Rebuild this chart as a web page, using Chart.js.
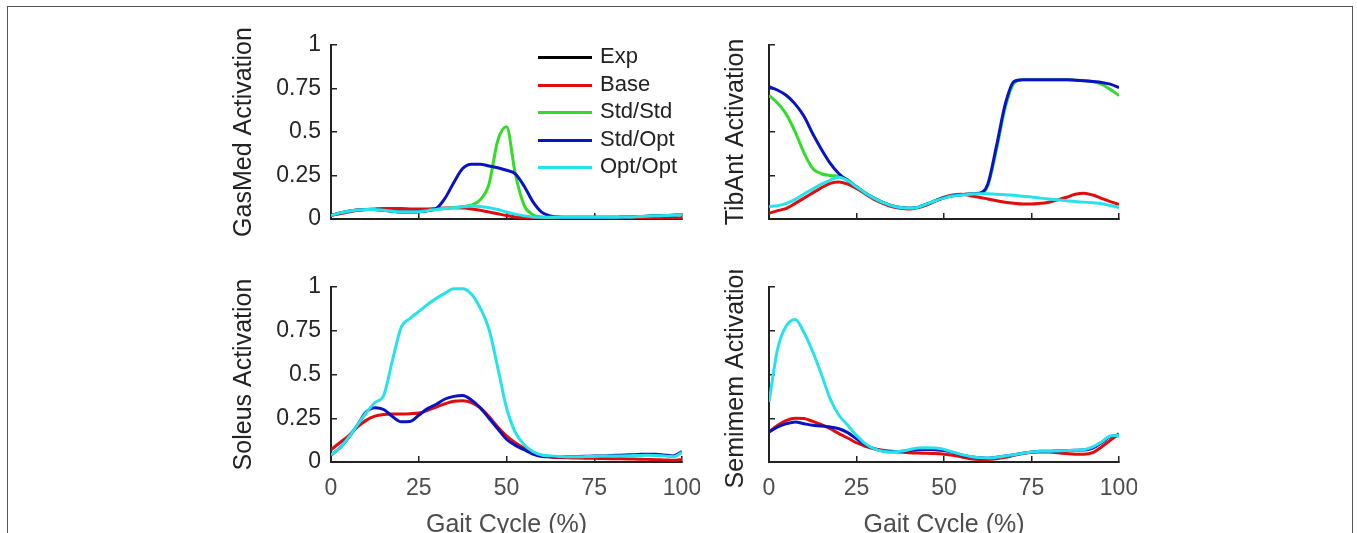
<!DOCTYPE html>
<html>
<head>
<meta charset="utf-8">
<title>Muscle activations over the gait cycle</title>
<script src="https://cdn.jsdelivr.net/npm/chart.js@4.4.0/dist/chart.umd.min.js"></script>
<style>
    body { margin: 0; background: #fff; }
    #page { position: relative; width: 1357px; height: 533px; overflow: hidden; background: #fff; }
    #frame { position: absolute; left: 7px; top: 6px; width: 1344px; height: 560px; border: 1px solid #555; border-bottom: none; }
    canvas { position: absolute; }
    #legend { position: absolute; left: 538px; top: 0; font-family: 'Liberation Sans', Arial, Helvetica, sans-serif; font-size: 22px; color: #222; }
    .legend-item { position: absolute; left: 0; height: 28px; width: 140px; }
    .legend-line { position: absolute; left: 0; top: 12px; width: 54px; height: 3px; }
    .legend-text { position: absolute; left: 62px; top: -2px; line-height: 28px; white-space: nowrap; }
</style>
</head>
<body>
<div id="page">
    <div id="frame"></div>
    <canvas id="gasmedChart" width="471" height="239" style="left:229px; top:0px;"></canvas>
    <canvas id="tibantChart" width="416" height="239" style="left:721px; top:0px;"></canvas>
    <canvas id="soleusChart" width="471" height="270" style="left:229px; top:270px;"></canvas>
    <canvas id="semimemChart" width="416" height="270" style="left:721px; top:270px;"></canvas>
    <div id="legend"></div>
</div>
<script>
// Gait cycle (%) sample points
const gaitCycle = [0, 2.5, 5, 7.5, 10, 12.5, 15, 17.5, 20, 22.5, 25, 27.5, 30, 32.5, 35, 37.5, 40, 42.5, 45, 47.5,
    50, 52.5, 55, 57.5, 60, 62.5, 65, 67.5, 70, 72.5, 75, 77.5, 80, 82.5, 85, 87.5, 90, 92.5, 95, 97.5, 100];
const gaitTicks = [0, 25, 50, 75, 100];
const activationTicks = [0, 0.25, 0.5, 0.75, 1];

const seriesNames = ['Exp', 'Base', 'Std/Std', 'Std/Opt', 'Opt/Opt'];
const seriesColors = ['#000000', '#e30c0c', '#33dc28', '#0713c4', '#26e2ea'];

// GasMed activation
const gasmedBase = [0.02, 0.03, 0.04, 0.05, 0.055, 0.058, 0.06, 0.06, 0.06, 0.058, 0.057, 0.058, 0.06, 0.063, 0.065, 0.063, 0.058, 0.05, 0.04, 0.03,
    0.02, 0.012, 0.008, 0.006, 0.006, 0.006, 0.006, 0.006, 0.006, 0.006, 0.006, 0.006, 0.006, 0.006, 0.006, 0.006, 0.006, 0.005, 0.005, 0.005, 0.005];
const gasmedStdStd = [0.02, 0.035, 0.045, 0.052, 0.055, 0.055, 0.05, 0.045, 0.04, 0.04, 0.042, 0.048, 0.055, 0.06, 0.065, 0.072, 0.08, 0.11, 0.2, 0.45,
    0.53, 0.26, 0.08, 0.025, 0.012, 0.01, 0.01, 0.01, 0.01, 0.01, 0.01, 0.01, 0.01, 0.011, 0.012, 0.014, 0.016, 0.018, 0.02, 0.022, 0.025];
const gasmedStdOpt = [0.02, 0.035, 0.045, 0.052, 0.055, 0.055, 0.05, 0.045, 0.04, 0.04, 0.042, 0.048, 0.06, 0.12, 0.21, 0.29, 0.315, 0.315, 0.305, 0.295,
    0.28, 0.26, 0.19, 0.1, 0.04, 0.018, 0.011, 0.01, 0.01, 0.01, 0.01, 0.01, 0.01, 0.011, 0.012, 0.014, 0.016, 0.018, 0.02, 0.022, 0.025];
const gasmedOptOpt = [0.02, 0.035, 0.045, 0.052, 0.055, 0.055, 0.05, 0.045, 0.04, 0.04, 0.042, 0.048, 0.055, 0.06, 0.065, 0.07, 0.075, 0.072, 0.065, 0.055,
    0.04, 0.028, 0.018, 0.012, 0.01, 0.01, 0.01, 0.01, 0.01, 0.01, 0.01, 0.01, 0.01, 0.011, 0.012, 0.014, 0.016, 0.018, 0.02, 0.022, 0.025];

// TibAnt activation
const tibantBase = [0.033, 0.048, 0.061, 0.09, 0.12, 0.15, 0.18, 0.205, 0.213, 0.2, 0.176, 0.144, 0.113, 0.09, 0.071, 0.061, 0.057, 0.065, 0.08, 0.103,
    0.125, 0.138, 0.142, 0.134, 0.125, 0.115, 0.105, 0.096, 0.09, 0.086, 0.086, 0.09, 0.096, 0.11, 0.125, 0.142, 0.148, 0.138, 0.119, 0.1, 0.084];
const tibantStdStd = [0.71, 0.665, 0.6, 0.5, 0.38, 0.29, 0.26, 0.25, 0.245, 0.225, 0.185, 0.15, 0.12, 0.095, 0.077, 0.066, 0.062, 0.067, 0.085, 0.105,
    0.122, 0.134, 0.14, 0.143, 0.146, 0.19, 0.4, 0.64, 0.78, 0.8, 0.8, 0.8, 0.8, 0.8, 0.8, 0.798, 0.795, 0.79, 0.775, 0.745, 0.71];
const tibantStdOpt = [0.76, 0.74, 0.71, 0.66, 0.59, 0.49, 0.4, 0.32, 0.26, 0.22, 0.185, 0.15, 0.12, 0.095, 0.077, 0.066, 0.062, 0.067, 0.085, 0.105,
    0.122, 0.134, 0.14, 0.143, 0.148, 0.2, 0.42, 0.66, 0.79, 0.8, 0.8, 0.8, 0.8, 0.8, 0.8, 0.798, 0.795, 0.79, 0.785, 0.775, 0.755];
const tibantOptOpt = [0.071, 0.077, 0.09, 0.113, 0.144, 0.172, 0.2, 0.224, 0.24, 0.22, 0.185, 0.15, 0.12, 0.095, 0.077, 0.066, 0.062, 0.067, 0.085, 0.105,
    0.12, 0.132, 0.138, 0.142, 0.145, 0.145, 0.142, 0.14, 0.136, 0.131, 0.126, 0.12, 0.115, 0.11, 0.105, 0.1, 0.097, 0.093, 0.088, 0.078, 0.066];

// Soleus activation
const soleusBase = [0.07, 0.11, 0.15, 0.2, 0.238, 0.262, 0.272, 0.275, 0.275, 0.276, 0.28, 0.295, 0.314, 0.333, 0.347, 0.35, 0.34, 0.31, 0.26, 0.2,
    0.15, 0.11, 0.08, 0.055, 0.038, 0.029, 0.025, 0.024, 0.023, 0.022, 0.021, 0.02, 0.019, 0.018, 0.017, 0.016, 0.015, 0.013, 0.012, 0.01, 0.015];
const soleusStdOpt = [0.04, 0.08, 0.14, 0.21, 0.285, 0.31, 0.3, 0.26, 0.23, 0.232, 0.267, 0.305, 0.33, 0.36, 0.375, 0.38, 0.355, 0.31, 0.25, 0.19,
    0.13, 0.095, 0.07, 0.045, 0.032, 0.03, 0.03, 0.031, 0.032, 0.033, 0.034, 0.035, 0.037, 0.039, 0.041, 0.043, 0.045, 0.045, 0.04, 0.035, 0.06];
const soleusOptOpt = [0.04, 0.08, 0.14, 0.21, 0.28, 0.34, 0.38, 0.58, 0.77, 0.82, 0.86, 0.9, 0.935, 0.965, 0.99, 0.99, 0.96, 0.88, 0.76, 0.54,
    0.31, 0.17, 0.1, 0.06, 0.04, 0.035, 0.032, 0.03, 0.03, 0.031, 0.032, 0.033, 0.034, 0.035, 0.036, 0.037, 0.038, 0.037, 0.035, 0.03, 0.055];

// Semimem activation
const semimemBase = [0.171, 0.21, 0.238, 0.25, 0.248, 0.232, 0.213, 0.19, 0.162, 0.137, 0.11, 0.09, 0.076, 0.067, 0.061, 0.057, 0.053, 0.051, 0.05, 0.048,
    0.044, 0.038, 0.029, 0.019, 0.015, 0.015, 0.019, 0.027, 0.038, 0.048, 0.055, 0.057, 0.057, 0.053, 0.048, 0.044, 0.044, 0.053, 0.086, 0.124, 0.162];
const semimemStdOpt = [0.171, 0.2, 0.219, 0.229, 0.219, 0.21, 0.206, 0.2, 0.19, 0.168, 0.133, 0.1, 0.076, 0.063, 0.058, 0.06, 0.065, 0.07, 0.072, 0.07,
    0.065, 0.055, 0.04, 0.03, 0.024, 0.022, 0.027, 0.034, 0.042, 0.05, 0.057, 0.061, 0.061, 0.063, 0.065, 0.067, 0.068, 0.08, 0.11, 0.145, 0.15];
const semimemOptOpt = [0.343, 0.65, 0.78, 0.815, 0.74, 0.63, 0.5, 0.36, 0.267, 0.21, 0.152, 0.105, 0.076, 0.061, 0.057, 0.061, 0.07, 0.08, 0.082, 0.08,
    0.072, 0.057, 0.042, 0.032, 0.025, 0.023, 0.027, 0.034, 0.042, 0.05, 0.057, 0.061, 0.061, 0.063, 0.065, 0.067, 0.07, 0.086, 0.114, 0.149, 0.152];

const fontFamily = "'Liberation Sans', Arial, Helvetica, sans-serif";

// One panel; the first series in the list is drawn on top
function createActivationChart(canvasId, panel) {
    return new Chart(document.getElementById(canvasId), {
        type: 'line',
        data: {
            datasets: panel.series.map(s => ({
                label: s.name,
                data: gaitCycle.map((x, i) => ({ x: x, y: s.values[i] })),
                borderColor: seriesColors[seriesNames.indexOf(s.name)],
                borderWidth: 3,
                pointRadius: 0,
                fill: false,
                cubicInterpolationMode: 'monotone'
            }))
        },
        options: {
            responsive: false,
            animation: false,
            events: [],
            layout: { padding: panel.padding, autoPadding: false },
            plugins: { legend: { display: false }, tooltip: { enabled: false } },
            scales: {
                x: {
                    type: 'linear',
                    min: 0,
                    max: 100,
                    afterBuildTicks: axis => { axis.ticks = gaitTicks.map(v => ({ value: v })); },
                    afterFit: axis => {
                        axis.height = panel.xAxisHeight;
                        axis.paddingLeft = 0;
                        axis.paddingRight = 0;
                    },
                    ticks: {
                        display: panel.showXLabels,
                        autoSkip: false,
                        maxRotation: 0,
                        padding: 19,
                        color: '#4d4d4d',
                        font: { family: fontFamily, size: 23 },
                        callback: v => String(v)
                    },
                    grid: { drawOnChartArea: false, tickLength: -6, color: '#222', lineWidth: 1.5 },
                    border: { color: '#222', width: 2 },
                    title: {
                        display: panel.showXLabels,
                        text: 'Gait Cycle (%)',
                        color: '#4d4d4d',
                        font: { family: fontFamily, size: 25 },
                        padding: 0
                    }
                },
                y: {
                    min: 0,
                    max: 1,
                    afterBuildTicks: axis => { axis.ticks = activationTicks.map(v => ({ value: v })); },
                    afterFit: axis => {
                        axis.width = panel.yAxisWidth;
                        axis.paddingTop = 0;
                        axis.paddingBottom = 0;
                    },
                    ticks: {
                        display: panel.showYLabels,
                        padding: 16,
                        color: '#262626',
                        font: { family: fontFamily, size: 23 },
                        callback: v => String(v)
                    },
                    grid: { drawOnChartArea: false, tickLength: -6, color: '#222', lineWidth: 1.5 },
                    border: { color: '#222', width: 2 },
                    title: {
                        display: true,
                        text: panel.yTitle,
                        color: '#222',
                        font: { family: fontFamily, size: 25 },
                        padding: 0
                    }
                }
            }
        }
    });
}

createActivationChart('gasmedChart', {
    yTitle: 'GasMed Activation',
    showXLabels: false, showYLabels: true,
    padding: { top: 45, right: 18, bottom: 0, left: 0 },
    yAxisWidth: 102, xAxisHeight: 20,
    series: [
        { name: 'Opt/Opt', values: gasmedOptOpt },
        { name: 'Std/Opt', values: gasmedStdOpt },
        { name: 'Std/Std', values: gasmedStdStd },
        { name: 'Base', values: gasmedBase }
    ]
});

createActivationChart('tibantChart', {
    yTitle: 'TibAnt Activation',
    showXLabels: false, showYLabels: false,
    padding: { top: 45, right: 18, bottom: 0, left: 0 },
    yAxisWidth: 48, xAxisHeight: 20,
    series: [
        { name: 'Opt/Opt', values: tibantOptOpt },
        { name: 'Std/Opt', values: tibantStdOpt },
        { name: 'Std/Std', values: tibantStdStd },
        { name: 'Base', values: tibantBase }
    ]
});

createActivationChart('soleusChart', {
    yTitle: 'Soleus Activation',
    showXLabels: true, showYLabels: true,
    padding: { top: 17, right: 18, bottom: 0, left: 0 },
    yAxisWidth: 102, xAxisHeight: 78,
    series: [
        { name: 'Opt/Opt', values: soleusOptOpt },
        { name: 'Std/Opt', values: soleusStdOpt },
        { name: 'Base', values: soleusBase }
    ]
});

createActivationChart('semimemChart', {
    yTitle: 'Semimem Activation',
    showXLabels: true, showYLabels: false,
    padding: { top: 17, right: 18, bottom: 0, left: 0 },
    yAxisWidth: 48, xAxisHeight: 78,
    series: [
        { name: 'Opt/Opt', values: semimemOptOpt },
        { name: 'Std/Opt', values: semimemStdOpt },
        { name: 'Base', values: semimemBase }
    ]
});

// Legend inside the GasMed panel
const legend = document.getElementById('legend');
seriesNames.forEach((name, i) => {
    const item = document.createElement('div');
    item.className = 'legend-item';
    item.style.top = (44 + i * 27.6) + 'px';
    const line = document.createElement('div');
    line.className = 'legend-line';
    line.style.background = seriesColors[i];
    const text = document.createElement('div');
    text.className = 'legend-text';
    text.textContent = name;
    item.appendChild(line);
    item.appendChild(text);
    legend.appendChild(item);
});
</script>
</body>
</html>
